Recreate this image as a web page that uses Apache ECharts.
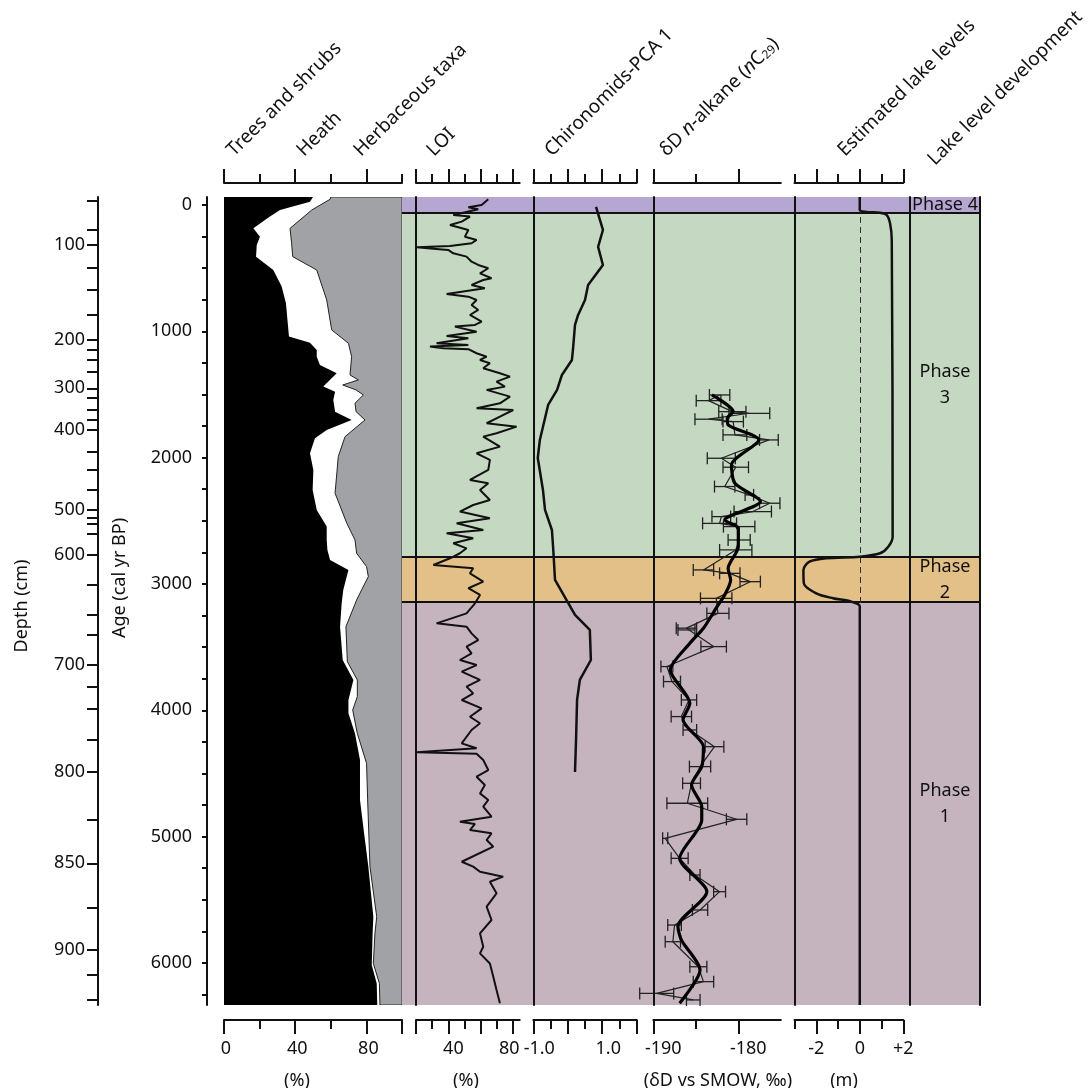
<!DOCTYPE html>
<html>
<head>
<meta charset="utf-8">
<script src="https://cdn.jsdelivr.net/npm/echarts@6.0.0/dist/echarts.min.js"></script>
<style>html,body{margin:0;padding:0;background:#fff;}#chart{width:1089px;height:1088px;}</style>
</head>
<body>
<div id="chart"></div>
<script>
// ================= DATA =================
const ageRange = [-63, 6333];
const ageTickValues = [0,250,500,750,1000,1250,1500,1750,2000,2250,2500,2750,3000,3250,3500,3750,4000,4250,4500,4750,5000,5250,5500,5750,6000,6250];
const ageLabelValues = [0,1000,2000,3000,4000,5000,6000];

const depthTickDepths = [50,75,100,125,150,175,200,225,250,275,300,325,350,375,400,425,450,475,500,525,550,575,600,625,650,675,700,725,750,775,800,825,850,875,900,925,950];
const depthTickAges   = [-34,198,317,501,668,871,1069,1148,1227,1319,1451,1530,1623,1702,1781,1953,2098,2256,2414,2473,2520,2599,2771,3008,3245,3400,3641,3813,3984,4235,4486,4868,5211,5567,5897,6095,6288];
const depthLabelDepths = [100,200,300,400,500,600,700,800,850,900];

const phaseNames  = ['Phase 4', 'Phase\n3', 'Phase\n2', 'Phase\n1'];
const phaseBounds = [-63, 63, 2787, 3143, 6333];

// pollen: [age, cumulative %]
const treesShrubs = [[-63,50],[-26,48.3],[40,31.5],[92,25.8],[185,16.5],[251,20.2],[317,18.4],[409,18.0],[515,27.7],[646,32.4],[778,34.8],[1042,36.5],[1090,48.3],[1148,52.1],[1201,52.1],[1266,53.9],[1332,63.3],[1438,55.8],[1478,62.4],[1544,61.4],[1636,62.4],[1702,71.7],[1781,57.7],[1847,51.1],[1966,48.3],[2098,50.2],[2256,49.8],[2414,52.1],[2546,57.7],[2652,57.7],[2731,58.1],[2810,59.6],[2889,69.9],[3047,67.0],[3153,66.1],[3338,65.2],[3602,66.7],[3760,72.7],[3919,69.9],[4024,69.9],[4183,73.6],[4394,76.4],[4710,76.4],[4974,78.7],[5238,81.1],[5634,83.9],[5766,83.5],[6017,83.0],[6162,85.8],[6333,86.1]];
const treesPlusHeath = [[-63,60],[-45,59.6],[40,49.3],[185,37.1],[303,38.0],[409,38.6],[515,52.1],[752,57.7],[989,60.5],[1095,69.9],[1201,71.7],[1346,70.8],[1385,75.5],[1425,66.7],[1464,74.2],[1504,78.3],[1570,73.6],[1636,74.2],[1702,79.2],[1834,68.0],[1992,64.2],[2282,62.4],[2520,69.0],[2652,73.6],[2757,74.5],[2863,80.1],[2942,81.1],[3047,77.3],[3127,74.5],[3338,68.5],[3615,69.3],[3760,74.9],[3892,74.9],[3998,72.3],[4183,74.9],[4420,80.1],[4710,80.7],[5238,82.0],[5634,85.8],[5766,84.8],[6004,83.9],[6162,87.3],[6333,87.6]];

// LOI: [age, %]
const loi = [[-45,64.6],[0,60.5],[18,52.3],[34,58.4],[79,43.0],[92,53.3],[132,48.2],[158,41.0],[198,52.3],[251,50.2],[277,57.4],[303,54.3],[325,41.0],[335,20.4],[346,30.7],[356,39.9],[383,43.0],[409,51.2],[449,54.3],[475,58.4],[501,64.6],[541,59.5],[580,66.6],[594,61.5],[633,54.3],[660,62.5],[704,38.9],[726,52.3],[752,57.4],[792,54.3],[831,58.4],[871,53.3],[923,60.5],[950,56.4],[963,44.0],[1003,57.4],[1037,38.9],[1055,52.3],[1095,32.7],[1108,52.3],[1121,28.6],[1135,36.9],[1142,52.3],[1174,57.4],[1201,63.6],[1227,59.5],[1253,65.6],[1293,61.5],[1332,71.8],[1359,78.0],[1398,69.7],[1438,74.9],[1464,63.6],[1517,78.0],[1570,71.8],[1609,57.4],[1623,80.0],[1675,71.8],[1728,63.6],[1755,82.1],[1807,69.7],[1834,61.5],[1913,71.8],[1966,57.4],[2018,65.6],[2098,64.6],[2177,53.3],[2203,64.6],[2256,59.5],[2335,65.6],[2375,55.3],[2427,47.1],[2480,65.6],[2520,45.1],[2573,61.5],[2599,38.9],[2639,55.3],[2678,43.0],[2718,51.2],[2757,47.1],[2797,41.0],[2850,30.7],[2876,55.3],[2916,53.3],[2982,61.5],[3034,52.3],[3087,59.5],[3153,56.4],[3167,57.4],[3233,51.2],[3312,32.7],[3338,51.2],[3391,54.3],[3444,58.4],[3496,51.2],[3549,54.3],[3602,47.1],[3642,57.4],[3694,48.2],[3760,59.5],[3813,51.2],[3866,55.3],[3919,48.2],[3985,60.5],[4051,53.3],[4103,59.5],[4156,54.3],[4262,48.2],[4301,57.4],[4333,20.4],[4344,57.4],[4394,61.5],[4473,64.6],[4526,57.4],[4592,62.5],[4658,59.5],[4710,64.6],[4763,61.5],[4842,66.6],[4882,47.1],[4900,56.4],[4948,53.3],[4974,66.6],[5027,63.6],[5080,67.7],[5199,48.2],[5238,55.3],[5278,59.5],[5317,73.8],[5357,65.6],[5449,69.7],[5555,63.6],[5660,66.6],[5766,59.5],[5872,61.5],[5924,59.5],[6004,65.6],[6109,67.7],[6215,69.7],[6320,71.8]];

// Chironomids PCA axis 1: [age, score]
const chiroPCA1 = [[16,0.82],[198,1.02],[332,0.88],[475,1.02],[633,0.59],[752,0.50],[871,0.30],[950,0.21],[1148,0.15],[1227,0.12],[1346,-0.17],[1464,-0.31],[1583,-0.57],[1860,-0.81],[2003,-0.87],[2256,-0.72],[2414,-0.66],[2573,-0.46],[2731,-0.42],[2968,-0.37],[3245,0.21],[3364,0.64],[3602,0.67],[3760,0.35],[3918,0.27],[4235,0.24],[4488,0.21]];

// dD n-alkane nC29 measurements
const dDAge   = [1504,1549,1636,1649,1696,1715,1820,1860,2005,2076,2229,2295,2361,2427,2467,2520,2546,2652,2731,2889,2916,2982,3114,3233,3350,3364,3496,3654,3773,3918,4050,4156,4288,4446,4578,4736,4863,5014,5172,5304,5436,5581,5700,5832,6030,6148,6241,6293];
const dDValue = [-182.2,-183.5,-180.7,-178.7,-183.5,-180.6,-180.4,-176.4,-182.0,-180.3,-181.6,-178.7,-176.3,-178.3,-182.0,-182.2,-179.9,-179.9,-180.3,-184.1,-181.0,-178.6,-182.6,-182.4,-186.1,-186.1,-182.9,-188.4,-187.8,-185.8,-186.7,-185.7,-182.8,-184.5,-185.5,-186.0,-180.2,-188.6,-186.9,-185.1,-182.2,-184.5,-187.5,-187.7,-184.7,-184.1,-189.6,-185.3];
const dDErr   = [1.2,1.45,1.6,2.4,1.6,1.2,1.4,1.1,1.65,1.5,1.2,0.5,1.2,2.2,1.1,2.0,1.85,1.3,1.9,1.2,1.2,1.2,1.85,1.3,1.2,1.0,1.5,0.7,1.0,0.9,1.2,0.8,1.1,1.25,1.05,2.4,1.2,0.3,1.0,0.6,0.7,0.9,0.8,0.9,1.0,1.2,2.0,0.8];
const dDSmooth = [[1504,-183.1],[1636,-180.6],[1689,-181.3],[1741,-181.2],[1860,-177.6],[2058,-180.8],[2203,-180.4],[2348,-177.4],[2494,-181.6],[2559,-180.0],[2705,-180.0],[2876,-181.2],[2968,-180.9],[3087,-181.6],[3180,-182.5],[3351,-184.1],[3470,-185.7],[3681,-188.0],[3944,-185.7],[4077,-186.5],[4288,-184.1],[4446,-184.3],[4591,-185.5],[4763,-184.3],[4868,-184.3],[5171,-186.9],[5436,-183.7],[5713,-187.1],[5818,-186.7],[6055,-184.5],[6319,-186.9]];

// Estimated lake level (m): [age, m]
const lakeLevel = [[-63,0],[40,0],[55,0.3],[61,0.93],[79,1.23],[145,1.39],[277,1.47],[2626,1.51],[2705,1.31],[2757,0.93],[2784,0],[2797,-1.54],[2824,-2.31],[2889,-2.59],[2995,-2.57],[3074,-2.0],[3113,-1.23],[3140,-0.39],[3179,0],[6333,0]];

// axis tick / label values
const pollenTicks = {topMajor:[0,40,80], topMinor:[20,60,100], botMajor:[0,40,80,100], botMinor:[20,60], labels:[0,40,80]};
const loiTicks    = {topMajor:[20,40,60,80], topMinor:[30,50,70], botMajor:[20,40,60,80], botMinor:[30,50,70], labels:[40,80]};
const chiroTicks  = {topMajor:[-1,0,1,2], topMinor:[-0.5,0.5,1.5], botMajor:[-1,0,1,2], botMinor:[-0.5,0.5,1.5], labels:[-1,1]};
const dDTicks     = {topMajor:[-190,-180], topMinor:[-185], botMajor:[-190,-180], botMinor:[-185], labels:[-190,-180]};
const lakeTicks   = {topMajor:[-2,0,2], topMinor:[-3,-1,1], botMajor:[-2,0,2], botMinor:[-3,-1,1], labels:[-2,0,2]};

// ================= CHART =================
const FONT = '"Noto Sans", "DejaVu Sans", sans-serif';
const INK = '#111';
const phaseColors = ['#b5a7d2', '#c5d9c2', '#e3c088', '#c5b4bd'];

const depthAgeOf = {};
depthTickDepths.forEach((d, i) => { depthAgeOf[d] = depthTickAges[i]; });
const depthLabelAges = depthLabelDepths.map(d => depthAgeOf[d]);

// rich styles used to nudge individual bottom tick labels sideways
function shiftStyle(dx) {
  return {fontSize:18, fontFamily:FONT, color:INK, padding: dx >= 0 ? [0, 0, 0, 2 * dx] : [0, -2 * dx, 0, 0]};
}
const labelRich = {p2:shiftStyle(2), p5:shiftStyle(5), m4:shiftStyle(-4), p6:shiftStyle(6), p10:shiftStyle(10), z:shiftStyle(0)};

const TOP = 197, BOT = 1088 - 1005;
const grids = [
  {left:224, width:178},     // 0 pollen
  {left:416, width:103.7},   // 1 LOI
  {left:533.3, width:103.4}, // 2 chironomids
  {left:653.3, width:127.5}, // 3 dD
  {left:794.5, width:108.8}, // 4 lake
  {left:910, width:70},      // 5 lake dev
  {left:402, width:578}      // 6 background
].map(g => Object.assign({top:TOP, bottom:BOT, outerBoundsMode:'none', containLabel:false}, g));

const xAxes = [];
function panelXAxes(g, min, max, t, fmt) {
  const base = {gridIndex:g, type:'value', min, max, z:10, splitLine:{show:false}, axisPointer:{show:false}};
  const ls = {color:INK, width:2};
  const start = xAxes.length;
  xAxes.push(Object.assign({}, base, {position:'top', offset:14, axisLine:{show:true, onZero:false, lineStyle:ls},
    axisTick:{show:true, customValues:t.topMajor, length:14, lineStyle:ls}, axisLabel:{show:false}}));
  xAxes.push(Object.assign({}, base, {position:'top', offset:14, axisLine:{show:false, onZero:false},
    axisTick:{show:true, customValues:t.topMinor, length:9, lineStyle:ls}, axisLabel:{show:false}}));
  xAxes.push(Object.assign({}, base, {position:'bottom', offset:15, axisLine:{show:true, onZero:false, lineStyle:ls},
    axisTick:{show:true, customValues:t.botMajor, length:14, lineStyle:ls},
    axisLabel:{show:true, customValues:t.labels, formatter:fmt, margin:20, fontSize:18, color:INK, fontFamily:FONT, rich:labelRich}}));
  xAxes.push(Object.assign({}, base, {position:'bottom', offset:15, axisLine:{show:false, onZero:false},
    axisTick:{show:true, customValues:t.botMinor, length:9, lineStyle:ls}, axisLabel:{show:false}}));
  return start;
}
const xPollen = panelXAxes(0, 0, 100, pollenTicks, v => '{p2|' + v + '}');
const xLoi    = panelXAxes(1, 20, 84, loiTicks, v => (v === 40 ? '{p5|' : '{m4|') + v + '}');
const xChiro  = panelXAxes(2, -1, 2, chiroTicks, v => '{p6|' + v.toFixed(1) + '}');
const xDD     = panelXAxes(3, -190, -175, dDTicks, v => '{p10|' + v + '}');
const xLake   = panelXAxes(4, -3, 2, lakeTicks, v => '{z|' + (v > 0 ? '+' + v : String(v)) + '}');
const xDev = xAxes.length; xAxes.push({gridIndex:5, type:'value', min:0, max:1, show:false});
const xBg  = xAxes.length; xAxes.push({gridIndex:6, type:'value', min:0, max:1, show:false});

const yBase = {type:'value', inverse:true, min:ageRange[0], max:ageRange[1], z:10,
  splitLine:{show:false}, axisTick:{show:false}, axisLabel:{show:false}, axisPointer:{show:false}};
const lineOnly = {show:true, onZero:false, lineStyle:{color:INK, width:2}};
const yAxes = [
  Object.assign({}, yBase, {gridIndex:0, position:'left', offset:17, axisLine:lineOnly,
    axisTick:{show:true, customValues:ageTickValues, length:5, lineStyle:{color:INK, width:2}},
    axisLabel:{show:true, customValues:ageLabelValues, formatter:v => String(v), margin:15, fontSize:18, color:INK, fontFamily:FONT}}),
  Object.assign({}, yBase, {gridIndex:0, position:'left', offset:126, axisLine:lineOnly,
    axisTick:{show:true, customValues:depthTickAges, length:11, lineStyle:{color:INK, width:2}},
    axisLabel:{show:true, customValues:depthLabelAges, margin:13, fontSize:18, color:INK, fontFamily:FONT,
      formatter: v => String(depthLabelDepths[depthLabelAges.indexOf(v)])}}),
  Object.assign({}, yBase, {gridIndex:1, position:'left', axisLine:lineOnly}),
  Object.assign({}, yBase, {gridIndex:2, position:'left', axisLine:lineOnly}),
  Object.assign({}, yBase, {gridIndex:3, position:'left', axisLine:lineOnly}),
  Object.assign({}, yBase, {gridIndex:4, position:'left', axisLine:lineOnly}),
  Object.assign({}, yBase, {gridIndex:5, position:'left', axisLine:lineOnly}),
  Object.assign({}, yBase, {gridIndex:5, position:'right', axisLine:lineOnly}),
  Object.assign({}, yBase, {gridIndex:6, position:'left', axisLine:{show:false, onZero:false}})
];

const series = [];
// phase background bands + boundaries
series.push({
  type:'custom', xAxisIndex:xBg, yAxisIndex:8, z:1, silent:true, clip:false,
  data: phaseNames.map((n, i) => [0.5, (phaseBounds[i] + phaseBounds[i+1]) / 2]),
  renderItem(params, api) {
    const i = params.dataIndex, cs = params.coordSys;
    const y0 = api.coord([0, phaseBounds[i]])[1], y1 = api.coord([0, phaseBounds[i+1]])[1];
    const ch = [{type:'rect', shape:{x:cs.x, y:y0, width:cs.width, height:y1 - y0}, style:{fill:phaseColors[i]}}];
    if (i > 0) ch.push({type:'line', shape:{x1:cs.x, y1:y0, x2:cs.x + cs.width, y2:y0}, style:{stroke:INK, lineWidth:2}});
    return {type:'group', children:ch};
  }
});
// phase labels
series.push({
  type:'custom', xAxisIndex:xDev, yAxisIndex:6, z:6, silent:true, clip:false,
  data: phaseNames.map((n, i) => [0.5, (phaseBounds[i] + phaseBounds[i+1]) / 2]),
  renderItem(params, api) {
    const i = params.dataIndex, cs = params.coordSys;
    const y0 = api.coord([0, phaseBounds[i]])[1], y1 = api.coord([0, phaseBounds[i+1]])[1];
    return {type:'text', x:cs.x + cs.width / 2, y:(y0 + y1) / 2,
      style:{text:phaseNames[i], align:'center', verticalAlign:'middle', fontSize:18, lineHeight:26, fontFamily:FONT, fill:INK}};
  }
});
// pollen areas
series.push({
  type:'custom', xAxisIndex:xPollen, yAxisIndex:0, z:3, silent:true, clip:true,
  data:[[50, 3000]],
  renderItem(params, api) {
    const c = p => api.coord(p);
    const top = ageRange[0], bot = ageRange[1];
    const herbEdge = treesPlusHeath.map(d => c([d[1], d[0]]));
    const treeEdge = treesShrubs.map(d => c([d[1], d[0]]));
    return {type:'group', children:[
      {type:'polygon', shape:{points:[c([0, top]), c([100, top]), c([100, bot]), c([0, bot])]}, style:{fill:'#a1a2a6', stroke:'#333', lineWidth:1}},
      {type:'polygon', shape:{points:[c([0, top])].concat(herbEdge, [c([0, bot])])}, style:{fill:'#fff'}},
      {type:'polyline', shape:{points:herbEdge}, style:{stroke:'#222', lineWidth:1, fill:null}},
      {type:'polygon', shape:{points:[c([0, top])].concat(treeEdge, [c([0, bot])])}, style:{fill:'#000'}}
    ]};
  }
});
// LOI
series.push({type:'line', xAxisIndex:xLoi, yAxisIndex:2, z:5, symbol:'none', silent:true,
  data: loi.map(d => [d[1], d[0]]), lineStyle:{color:INK, width:2}});
// Chironomids
series.push({type:'line', xAxisIndex:xChiro, yAxisIndex:3, z:5, symbol:'none', silent:true,
  data: chiroPCA1.map(d => [d[1], d[0]]), lineStyle:{color:INK, width:2.5}});
// dD thin line
series.push({type:'line', xAxisIndex:xDD, yAxisIndex:4, z:5, symbol:'none', silent:true, clip:false,
  data: dDAge.map((a, i) => [dDValue[i], a]), lineStyle:{color:'#222', width:1.2}});
// dD error bars
series.push({type:'custom', xAxisIndex:xDD, yAxisIndex:4, z:5, silent:true, clip:false,
  data: dDAge.map((a, i) => [dDValue[i], a, dDErr[i]]),
  renderItem(params, api) {
    const v = api.value(0), a = api.value(1), e = api.value(2);
    const p0 = api.coord([v - e, a]), p1 = api.coord([v + e, a]);
    const st = {stroke:'#222', lineWidth:1.3};
    return {type:'group', children:[
      {type:'line', shape:{x1:p0[0], y1:p0[1], x2:p1[0], y2:p1[1]}, style:st},
      {type:'line', shape:{x1:p0[0], y1:p0[1] - 6, x2:p0[0], y2:p0[1] + 6}, style:st},
      {type:'line', shape:{x1:p1[0], y1:p1[1] - 6, x2:p1[0], y2:p1[1] + 6}, style:st}
    ]};
  }
});
// dD smoothed
series.push({type:'line', xAxisIndex:xDD, yAxisIndex:4, z:6, symbol:'none', silent:true, smooth:0.25,
  data: dDSmooth.map(d => [d[1], d[0]]), lineStyle:{color:'#000', width:3.2}});
// lake level
series.push({type:'line', xAxisIndex:xLake, yAxisIndex:5, z:6, symbol:'none', silent:true, smooth:0.3,
  data: lakeLevel.map(d => [d[1], d[0]]), lineStyle:{color:INK, width:2.5},
  markLine:{silent:true, symbol:['none','none'], label:{show:false}, animation:false,
    lineStyle:{color:'#333', width:1, type:[6,4]}, data:[{xAxis:0}]}});

const titleStyle = {fontSize:19, fontFamily:FONT, fill:INK, align:'left', verticalAlign:'bottom'};
function rotTitle(x, y, text, extra) {
  return {type:'text', x, y, rotation:Math.PI / 4, style:Object.assign({text}, titleStyle, extra || {})};
}
const graphics = [
  rotTitle(237, 160, 'Trees and shrubs'),
  rotTitle(307, 160, 'Heath'),
  rotTitle(364, 160, 'Herbaceous taxa'),
  rotTitle(437, 160, 'LOI'),
  rotTitle(555, 160, 'Chironomids-PCA 1'),
  rotTitle(670, 160, '{n|δD }{i|n}{n|-alkane (}{i|n}{n|C}{s|29}{n|)}', {rich:{
    n:{fontSize:19, fontFamily:FONT, fill:INK},
    i:{fontSize:19, fontFamily:FONT, fontStyle:'italic', fill:INK},
    s:{fontSize:12, fontFamily:FONT, fill:INK, verticalAlign:'bottom'}}}),
  rotTitle(848, 160, 'Estimated lake levels'),
  rotTitle(938, 169, 'Lake level development'),
  {type:'text', x:22, y:606, rotation:Math.PI / 2, style:{text:'Depth (cm)', fontSize:18, fontFamily:FONT, fill:INK, align:'center', verticalAlign:'middle'}},
  {type:'text', x:120, y:578, rotation:Math.PI / 2, style:{text:'Age (cal yr BP)', fontSize:18, fontFamily:FONT, fill:INK, align:'center', verticalAlign:'middle'}},
  {type:'text', x:297, y:1081, style:{text:'(%)', fontSize:18, fontFamily:FONT, fill:INK, align:'center', verticalAlign:'middle'}},
  {type:'text', x:466, y:1081, style:{text:'(%)', fontSize:18, fontFamily:FONT, fill:INK, align:'center', verticalAlign:'middle'}},
  {type:'text', x:718, y:1081, style:{text:'(δD vs SMOW, ‰)', fontSize:18, fontFamily:FONT, fill:INK, align:'center', verticalAlign:'middle'}},
  {type:'text', x:844, y:1081, style:{text:'(m)', fontSize:18, fontFamily:FONT, fill:INK, align:'center', verticalAlign:'middle'}}
];

const chart = echarts.init(document.getElementById('chart'), null, {renderer:'canvas'});
chart.setOption({
  animation:false,
  backgroundColor:'#fff',
  grid:grids,
  xAxis:xAxes,
  yAxis:yAxes,
  series,
  graphic:graphics
});
</script>
</body>
</html>
